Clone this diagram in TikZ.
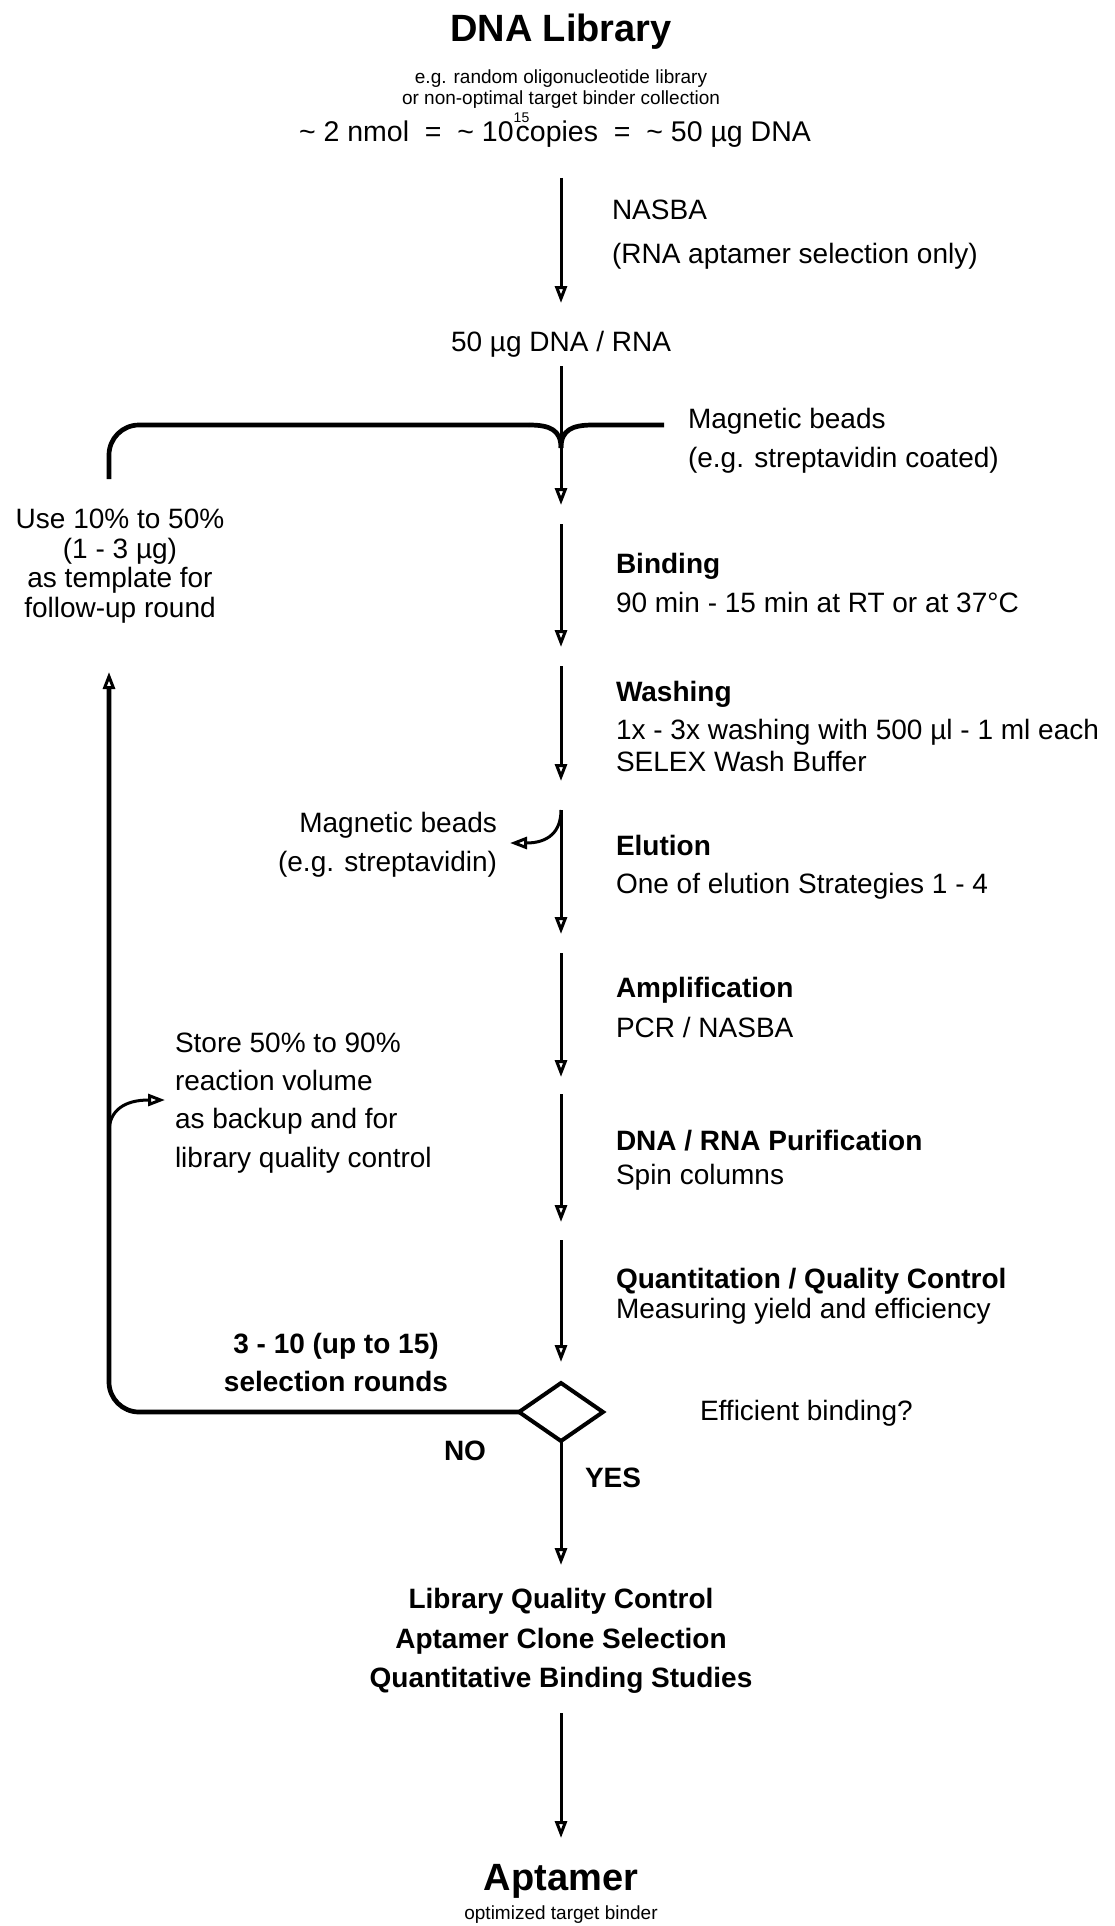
\documentclass[tikz,border=0pt]{standalone}
\usepackage{fontspec}
\setmainfont{Liberation Sans}
\usetikzlibrary{arrows.meta,shapes.geometric}
\begin{document}
\begin{tikzpicture}[x=1pt,y=-1pt,
  every node/.style={inner sep=0pt, outer sep=0pt},
  body/.style={font=\fontsize{28}{34}\selectfont},
  bodyb/.style={font=\fontsize{28}{34}\selectfont\bfseries},
  smalltxt/.style={font=\fontsize{19}{22}\selectfont},
  bigtitle/.style={font=\fontsize{38}{44}\selectfont\bfseries},
  tip/.style={-{Triangle[open,length=17pt,width=12pt,line width=3pt]}},
  flow/.style={line width=3pt, tip},
  loopline/.style={line width=4.7pt},
  thinline/.style={line width=3pt}
]
\useasboundingbox (0,0) rectangle (1114,1926);

% ---- title block
\node[bigtitle, anchor=base] (lib) at (561,42) {DNA Library};
\node[smalltxt, anchor=base] (lib1) at (561,84) {e.g. random oligonucleotide library};
\node[smalltxt, anchor=base] (lib2) at (561,105) {or non-optimal target binder collection};
\node[font=\fontsize{28.5}{34}\selectfont, anchor=base] (amt) at (555,142)
  {\textasciitilde{} 2 nmol\ \ =\ \ \textasciitilde{} 10\rlap{\raisebox{19pt}{\fontsize{14}{14}\selectfont 15}}\hspace{2pt}copies\ \ =\ \ \textasciitilde{} 50 µg DNA};

% ---- NASBA
\coordinate (a1s) at (561,178);
\coordinate (a1e) at (561,303);
\draw[flow] (a1s) -- (a1e);
\node[body, anchor=base west] (nasba) at (612,220) {NASBA};
\node[body, anchor=base west] (nasba2) at (612,264) {(RNA aptamer selection only)};
\node[body, anchor=base] (dnarna) at (561,351) {50 µg DNA / RNA};

% ---- beads merge
\coordinate (a2s) at (561,366);
\coordinate (a2e) at (561,505);
\draw[flow] (a2s) -- (a2e);
\coordinate (mrg) at (561,448);
\coordinate (lpl) at (109,479);
\coordinate (lpr) at (529,425);
\coordinate (bst) at (664,425);
\draw[loopline, rounded corners=30pt] (lpl) |- (lpr);
\draw[loopline] (lpr) .. controls (550,425) and (561,430) .. (mrg);
\draw[loopline] (bst) -- (593,425) .. controls (572,425) and (561,430) .. (mrg);
\node[body, anchor=base west] (mb1) at (688,428) {Magnetic beads};
\node[body, anchor=base west] (mb2) at (688,467) {(e.g. streptavidin coated)};

% ---- template text
\node[body, anchor=base] (use1) at (120,528) {Use 10\% to 50\%};
\node[body, anchor=base] (use2) at (120,558) {(1 - 3 µg)};
\node[body, anchor=base] (use3) at (120,587) {as template for};
\node[body, anchor=base] (use4) at (120,617) {follow-up round};

% ---- Binding
\coordinate (a3s) at (561,524);
\coordinate (a3e) at (561,647);
\draw[flow] (a3s) -- (a3e);
\node[bodyb, anchor=base west] (bind1) at (616,573) {Binding};
\node[body, anchor=base west] (bind2) at (616,612) {90 min - 15 min at RT or at 37°C};

% ---- Washing
\coordinate (a4s) at (561,666);
\coordinate (a4e) at (561,781);
\draw[flow] (a4s) -- (a4e);
\node[bodyb, anchor=base west] (wash1) at (616,701) {Washing};
\node[body, anchor=base west] (wash2) at (616,739) {1x - 3x washing with 500 µl - 1 ml each};
\node[body, anchor=base west] (wash3) at (616,771) {SELEX Wash Buffer};

% ---- Elution
\coordinate (a5s) at (561,810);
\coordinate (a5e) at (561,934);
\coordinate (bout) at (510,843);
\draw[flow] (a5s) -- (a5e);
\draw[flow] (a5s) .. controls (561,832) and (548,843) .. (bout);
\node[bodyb, anchor=base west] (elu1) at (616,855) {Elution};
\node[body, anchor=base west] (elu2) at (616,893) {One of elution Strategies 1 - 4};
\node[body, anchor=base east] (mb3) at (497,832) {Magnetic beads};
\node[body, anchor=base east] (mb4) at (497,871) {(e.g. streptavidin)};

% ---- Amplification
\coordinate (a6s) at (561,953);
\coordinate (a6e) at (561,1077);
\draw[flow] (a6s) -- (a6e);
\node[bodyb, anchor=base west] (amp1) at (616,997) {Amplification};
\node[body, anchor=base west] (amp2) at (616,1037) {PCR / NASBA};

% ---- Store
\node[body, anchor=base west] (st1) at (175,1052) {Store 50\% to 90\%};
\node[body, anchor=base west] (st2) at (175,1090) {reaction volume};
\node[body, anchor=base west] (st3) at (175,1128) {as backup and for};
\node[body, anchor=base west] (st4) at (175,1167) {library quality control};
\coordinate (sts) at (109,1132);
\coordinate (ste) at (165,1100);
\draw[flow] (sts) .. controls (109,1110) and (125,1100) .. (ste);

% ---- Purification
\coordinate (a7s) at (561,1094);
\coordinate (a7e) at (561,1222);
\draw[flow] (a7s) -- (a7e);
\node[bodyb, anchor=base west] (pur1) at (616,1150) {DNA / RNA Purification};
\node[body, anchor=base west] (pur2) at (616,1184) {Spin columns};

% ---- Quantitation
\coordinate (a8s) at (561,1240);
\coordinate (a8e) at (561,1362);
\draw[flow] (a8s) -- (a8e);
\node[bodyb, anchor=base west] (qc1) at (616,1288) {Quantitation / Quality Control};
\node[body, anchor=base west] (qc2) at (616,1318) {Measuring yield and efficiency};

% ---- Decision
\node[diamond, draw, line width=4pt, minimum width=84pt, minimum height=58pt] (dia) at (561,1412) {};
\node[body, anchor=base west] (eff) at (700,1420) {Efficient binding?};
\node[bodyb, anchor=base] (rnd1) at (336,1353) {3 - 10 (up to 15)};
\node[bodyb, anchor=base] (rnd2) at (336,1391) {selection rounds};
\node[bodyb, anchor=base] (no) at (465,1460) {NO};
\node[bodyb, anchor=base west] (yes) at (585,1487) {YES};
\coordinate (uptip) at (109,672);
\draw[loopline, rounded corners=30pt, tip] (dia.west) -| (uptip);

% ---- result
\coordinate (a9e) at (561,1565);
\draw[flow] (dia.south) -- (a9e);
\node[bodyb, anchor=base] (res1) at (561,1608) {Library Quality Control};
\node[bodyb, anchor=base] (res2) at (561,1648) {Aptamer Clone Selection};
\node[bodyb, anchor=base] (res3) at (561,1687) {Quantitative Binding Studies};
\coordinate (a10s) at (561,1713);
\coordinate (a10e) at (561,1838);
\draw[flow] (a10s) -- (a10e);
\node[bigtitle, anchor=base] (apt) at (561,1890) {Aptamer};
\node[smalltxt, anchor=base] (apt2) at (561,1919) {optimized target binder};
\end{tikzpicture}
\end{document}
